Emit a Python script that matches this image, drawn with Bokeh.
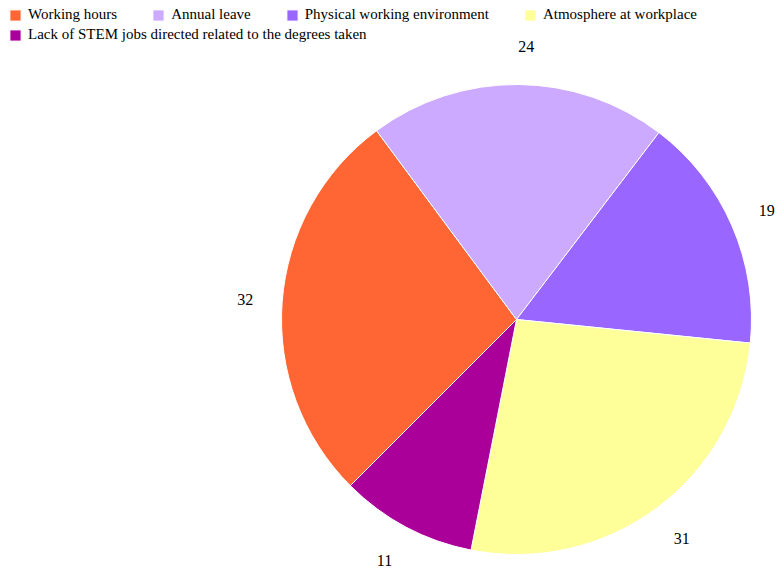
import math
from bokeh.plotting import figure
from bokeh.models import ColumnDataSource, Legend, LegendItem, Range1d
from bokeh.embed import file_html
from bokeh.resources import INLINE
from bokeh.core.properties import value

# ---- data ----
categories = [
    "Working hours",
    "Annual leave",
    "Physical working environment",
    "Atmosphere at workplace",
    "Lack of STEM jobs directed related to the degrees taken",
]
values = [32, 24, 19, 31, 11]
colors = ["#FF6633", "#CCAAFF", "#9966FF", "#FFFF99", "#AA0099"]

# ---- layout ----
W, H = 775, 571
CX, CY = 516, 319          # pie centre, px from top-left of the figure
R = 235
LABEL_RX, LABEL_RY = 264, 273
START = math.radians(225)  # slices run clockwise from here
FONT = "Liberation Serif"

total = sum(values)
starts, ends = [], []
acc = 0
for v in values:
    a0 = START - 2 * math.pi * acc / total
    acc += v
    a1 = START - 2 * math.pi * acc / total
    starts.append(a1)
    ends.append(a0)
mids = [(s + e) / 2 for s, e in zip(starts, ends)]
lx = [LABEL_RX * math.cos(m) for m in mids]
ly = [LABEL_RY * math.sin(m) for m in mids]
align = ["left" if math.cos(m) >= 0 else "right" for m in mids]

src = ColumnDataSource(dict(
    cat=categories, val=values, color=colors,
    start=starts, end=ends, lx=lx, ly=ly, align=align,
    label=[str(v) for v in values],
))

p = figure(width=W, height=H, x_range=Range1d(-CX, W - CX),
           y_range=Range1d(-(H - CY), CY),
           x_axis_type=None, y_axis_type=None,
           toolbar_location=None, output_backend="svg", min_border=0)
p.grid.visible = False
p.outline_line_color = None
p.background_fill_color = "white"
p.border_fill_color = "white"

r = p.wedge(x=0, y=0, radius=R, start_angle="start", end_angle="end",
            direction="anticlock", fill_color="color", line_color="white",
            line_width=1, source=src)

p.text(x="lx", y="ly", text="label", text_align="align",
       text_baseline="middle", text_font=value(FONT),
       text_font_size="16px", text_color="#000000", source=src)

common = dict(orientation="horizontal", glyph_width=14, glyph_height=14,
              label_standoff=6, spacing=34, padding=0, margin=0,
              border_line_color=None, background_fill_alpha=0,
              label_text_font=FONT, label_text_font_size="15px",
              label_text_color="#000000", label_height=11)

ITEM_H = 17
leg1 = Legend(items=[LegendItem(label=categories[i], renderers=[r], index=i)
                     for i in range(4)],
              location=(8, H - 6 - ITEM_H), **common)
leg2 = Legend(items=[LegendItem(label=categories[4], renderers=[r], index=4)],
              location=(8, H - 26 - ITEM_H), **common)
p.add_layout(leg1)
p.add_layout(leg2)

open("out.html", "w").write(file_html(p, INLINE))
